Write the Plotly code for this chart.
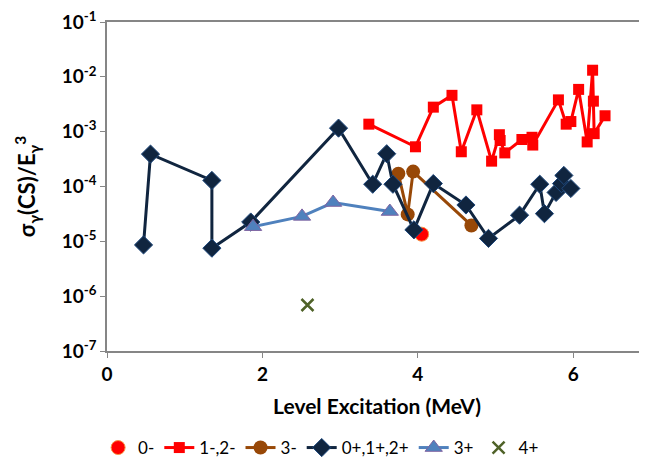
import plotly.graph_objects as go

# ---- data ----
x_0m = [4.05]
y_0m = [1.35e-5]

x_12m = [3.37, 3.97, 4.20, 4.44, 4.56, 4.76, 4.95, 5.05, 5.06, 5.12, 5.34, 5.47, 5.48,
         5.81, 5.91, 5.97, 6.07, 6.18, 6.25, 6.26, 6.27, 6.41]
y_12m = [1.37e-3, 5.3e-4, 2.8e-3, 4.6e-3, 4.3e-4, 2.5e-3, 2.9e-4, 8.8e-4, 6.9e-4, 4.1e-4,
         7.2e-4, 7.9e-4, 5.7e-4, 3.8e-3, 1.37e-3, 1.53e-3, 5.9e-3, 6.5e-4, 1.32e-2, 3.6e-3,
         9.2e-4, 1.95e-3]

x_3m = [3.75, 3.87, 3.94, 4.69]
y_3m = [1.71e-4, 3.1e-5, 1.87e-4, 1.95e-5]

x_012p = [0.47, 0.56, 1.35, 1.35, 1.85, 2.98, 3.42, 3.60, 3.68, 3.95, 4.20, 4.62, 4.91,
          5.31, 5.57, 5.63, 5.78, 5.85, 5.88, 5.97]
y_012p = [8.6e-6, 3.9e-4, 1.29e-4, 7.5e-6, 2.25e-5, 1.16e-3, 1.1e-4, 3.96e-4, 1.1e-4,
          1.62e-5, 1.13e-4, 4.6e-5, 1.13e-5, 3.0e-5, 1.1e-4, 3.2e-5, 7.8e-5, 1.13e-4,
          1.59e-4, 9.2e-5]

x_3p = [1.88, 2.51, 2.91, 3.64]
y_3p = [1.85e-5, 2.85e-5, 5.1e-5, 3.5e-5]

x_4p = [2.58]
y_4p = [6.9e-7]

y_tickvals = [1e-7, 1e-6, 1e-5, 1e-4, 1e-3, 1e-2, 1e-1]
y_ticktext = ["10<sup>-7</sup>", "10<sup>-6</sup>", "10<sup>-5</sup>", "10<sup>-4</sup>",
              "10<sup>-3</sup>", "10<sup>-2</sup>", "10<sup>-1</sup>"]
x_tickvals = [0, 2, 4, 6]

FONT = "Lato"

fig = go.Figure()
fig.add_trace(go.Scatter(x=x_0m, y=y_0m, mode="markers", name="0-",
                         marker=dict(symbol="circle", size=14, color="#FF0000",
                                     line=dict(color="#F79646", width=1))))
fig.add_trace(go.Scatter(x=x_12m, y=y_12m, mode="lines+markers", name="1-,2-",
                         line=dict(color="#FF0000", width=3),
                         marker=dict(symbol="square", size=11, color="#FF0000")))
fig.add_trace(go.Scatter(x=x_3m, y=y_3m, mode="lines+markers", name="3-",
                         line=dict(color="#984807", width=3),
                         marker=dict(symbol="circle", size=14, color="#984807")))
fig.add_trace(go.Scatter(x=x_012p, y=y_012p, mode="lines+markers", name="0+,1+,2+",
                         line=dict(color="#10253F", width=3),
                         marker=dict(symbol="diamond", size=14, color="#10253F",
                                     line=dict(color="#1F497D", width=1))))
fig.add_trace(go.Scatter(x=x_3p, y=y_3p, mode="lines+markers", name="3+",
                         line=dict(color="#4F81BD", width=3),
                         marker=dict(symbol="triangle-up", size=15, color="#4F81BD",
                                     line=dict(color="#8064A2", width=1))))
fig.add_trace(go.Scatter(x=x_4p, y=y_4p, mode="markers", name="4+",
                         marker=dict(symbol="x-thin", size=12,
                                     line=dict(color="#4F6228", width=2.5))))

fig.update_layout(
    width=639, height=458,
    margin=dict(l=99, r=0, t=7, b=115),
    paper_bgcolor="white", plot_bgcolor="white",
    font=dict(family=FONT, color="black"),
    showlegend=True,
    legend=dict(orientation="h", xref="container", yref="container",
                x=0.49, xanchor="center", y=-0.028, yanchor="bottom",
                font=dict(size=17, family=FONT), itemwidth=30,
                traceorder="normal"),
)
fig.update_xaxes(range=[0, 6.95], tickvals=x_tickvals, showgrid=False, zeroline=False,
                 showline=True, linecolor="#868686", linewidth=1.5, mirror=True,
                 ticks="outside", ticklen=5, tickcolor="#868686",
                 tickfont=dict(size=19, family=FONT, weight="bold"),
                 title=dict(text="Level Excitation (MeV)", standoff=16,
                            font=dict(size=21, family=FONT, weight="bold")))
fig.update_yaxes(type="log", range=[-7, -1], tickvals=y_tickvals, ticktext=y_ticktext,
                 ticklabeloverflow="allow",
                 showgrid=False, zeroline=False, showline=True, linecolor="#868686",
                 linewidth=1.5, ticks="outside", ticklen=5, tickcolor="#868686",
                 tickfont=dict(size=19, family=FONT, weight="bold"),
                 title=dict(text="σ<sub>γ</sub>(CS)/E<sub>γ</sub><sup>3</sup>", standoff=20,
                            font=dict(size=22, family=FONT, weight="bold")))

fig.write_html("out.html")
